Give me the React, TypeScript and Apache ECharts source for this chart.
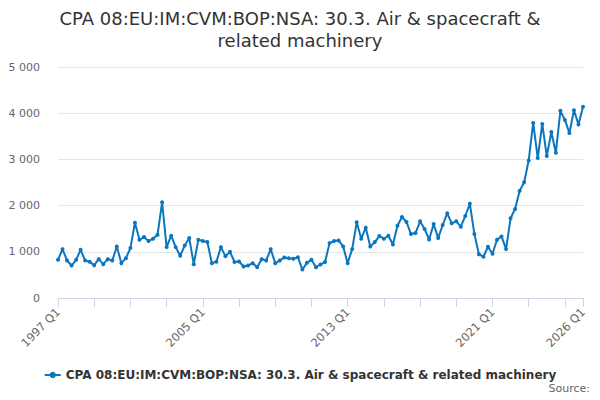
import React, { useEffect, useRef } from "react";
import * as echarts from "echarts";

const seriesName = "CPA 08:EU:IM:CVM:BOP:NSA: 30.3. Air & spacecraft & related machinery";
const titleText = "CPA 08:EU:IM:CVM:BOP:NSA: 30.3. Air & spacecraft &\nrelated machinery";

// quarters 1997 Q1 .. 2026 Q1
const quarters: string[] = [];
for (let y = 1997; y <= 2026; y++) {
  for (let q = 1; q <= 4; q++) {
    if (y === 2026 && q > 1) break;
    quarters.push(`${y} Q${q}`);
  }
}

const values: number[] = [
  826, 1058, 812, 703, 826, 1043, 812, 783, 710, 841,
  732, 841, 812, 1116, 754, 862, 1080, 1630, 1261, 1319,
  1232, 1283, 1370, 2072, 1101, 1348, 1101, 913, 1138, 1297,
  732, 1261, 1232, 1210, 754, 783, 1101, 906, 1000, 780,
  790, 681, 703, 754, 667, 841, 812, 1058, 754, 812,
  877, 862, 848, 884, 616, 761, 826, 667, 725, 780,
  1188, 1232, 1246, 1116, 754, 1058, 1638, 1283, 1522, 1116,
  1210, 1341, 1283, 1348, 1159, 1565, 1754, 1645, 1384, 1406,
  1659, 1493, 1268, 1601, 1297, 1580, 1833, 1616, 1659, 1543,
  1775, 2043, 1384, 949, 891, 1109, 957, 1261, 1333, 1058,
  1725, 1928, 2319, 2507, 2978, 3790, 3029, 3768, 3072, 3594,
  3145, 4051, 3855, 3572, 4065, 3754, 4138,
];

const yTicks = [0, 1000, 2000, 3000, 4000, 5000];

const App: React.FC = () => {
  const chartRef = useRef<HTMLDivElement>(null);

  useEffect(() => {
    const chart = echarts.init(chartRef.current, null, { renderer: "svg" });
    const last = quarters.length - 1;
    const option: echarts.EChartsOption = {
      animation: false,
      textStyle: { fontFamily: "DejaVu Sans" },
      title: {
        text: titleText,
        left: "center",
        top: 2,
        textStyle: {
          fontSize: 18,
          fontWeight: "normal",
          color: "#333333",
          lineHeight: 22,
          fontFamily: "DejaVu Sans",
        },
      },
      grid: { left: 58, right: 17, top: 67, bottom: 102 },
      xAxis: {
        type: "category",
        data: quarters,
        boundaryGap: false,
        axisLine: { lineStyle: { color: "#ccd6eb" } },
        axisTick: {
          length: 9,
          interval: (i: number) => i % 8 === 0 || i === last,
          lineStyle: { color: "#ccd6eb" },
        },
        axisLabel: {
          interval: (i: number) => i % 32 === 0 || i === last,
          rotate: 45,
          fontSize: 11.5,
          color: "#666666",
          margin: 12,
        },
      },
      yAxis: {
        type: "value",
        min: yTicks[0],
        max: yTicks[yTicks.length - 1],
        interval: 1000,
        axisLine: { show: false },
        axisTick: { show: false },
        splitLine: { lineStyle: { color: "#e6e6e6" } },
        axisLabel: {
          fontSize: 11,
          color: "#666666",
          margin: 18,
          formatter: (v: number) => String(v).replace(/\B(?=(\d{3})+(?!\d))/g, " "),
        },
      },
      legend: {
        top: 364,
        left: "center",
        itemWidth: 16,
        itemHeight: 8,
        textStyle: { fontSize: 12, fontWeight: "bold", color: "#333333" },
        data: [seriesName],
      },
      graphic: [
        {
          type: "text",
          right: 10,
          top: 383,
          style: { text: "Source:", fontSize: 11, fill: "#666666", fontFamily: "DejaVu Sans" },
        },
      ],
      series: [
        {
          name: seriesName,
          type: "line",
          data: values,
          symbol: "circle",
          symbolSize: 4,
          showAllSymbol: true,
          itemStyle: { color: "#0a76be" },
          lineStyle: { width: 2, color: "#0a76be" },
        },
      ],
    };
    chart.setOption(option);
    return () => {
      chart.dispose();
    };
  }, []);

  return (
    <div
      ref={chartRef}
      style={{ position: "absolute", left: 0, top: 0, width: 600, height: 400 }}
    />
  );
};

export default App;
